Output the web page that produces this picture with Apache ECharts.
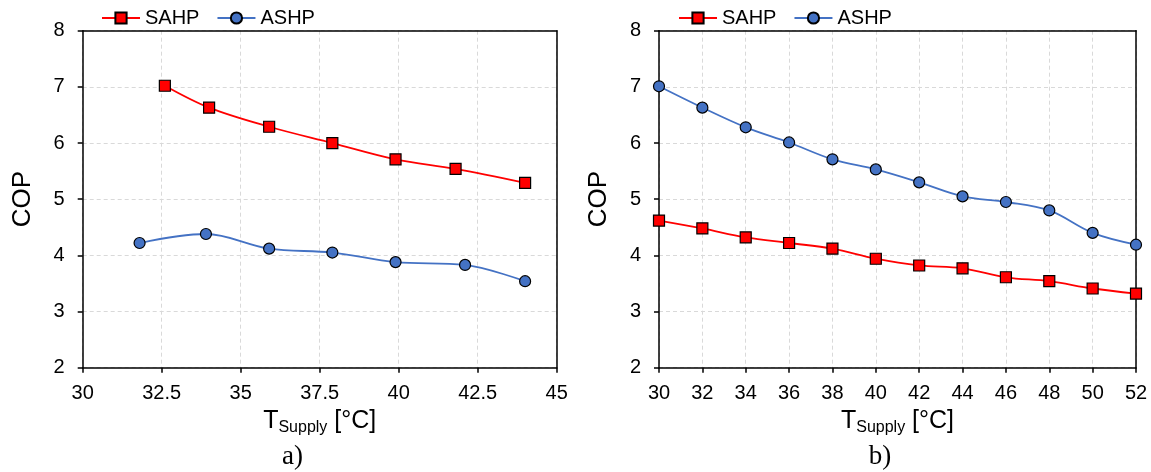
<!DOCTYPE html>
<html>
<head>
<meta charset="utf-8">
<script src="https://cdn.jsdelivr.net/npm/echarts@6/dist/echarts.min.js"></script>
<style>
  html, body { margin: 0; padding: 0; background: #fff; }
  #chart { width: 1151px; height: 472px; }
</style>
</head>
<body>
<div id="chart"></div>
<script>
// Panel a): supply temperature (°C) vs COP
const aSahpTemp = [32.6, 34.0, 35.9, 37.9, 39.9, 41.8, 44.0];
const aSahpCop  = [7.02, 6.63, 6.29, 6.00, 5.71, 5.54, 5.29];
const aAshpTemp = [31.8, 33.9, 35.9, 37.9, 39.9, 42.1, 44.0];
const aAshpCop  = [4.22, 4.38, 4.12, 4.05, 3.88, 3.83, 3.54];

// Panel b): supply temperature (°C) vs COP
const bTemp     = [30, 32, 34, 36, 38, 40, 42, 44, 46, 48, 50, 52];
const bSahpCop  = [4.62, 4.48, 4.32, 4.22, 4.12, 3.94, 3.82, 3.77, 3.61, 3.54, 3.41, 3.32];
const bAshpCop  = [7.01, 6.63, 6.28, 6.01, 5.71, 5.53, 5.30, 5.05, 4.95, 4.80, 4.40, 4.19];

const seriesNames = ['SAHP', 'ASHP'];
const panelCaptions = ['a)', 'b)'];

const FONT = '"Liberation Sans", Arial, sans-serif';
const RED = '#ff0000';
const BLUE = '#4472c4';
const FRAME = { color: '#000', width: 1.5 };

const pairs = (xs, ys) => xs.map((x, i) => [x, ys[i]]);

function xAxisFor(gridIndex, min, max, interval) {
  return {
    type: 'value', gridIndex, min, max, interval,
    name: '{t|T}{s|Supply}{u| [°C]}',
    nameLocation: 'middle',
    nameGap: 37,
    nameTextStyle: {
      rich: {
        t: { fontFamily: FONT, fontSize: 25, color: '#000', verticalAlign: 'bottom', lineHeight: 26 },
        s: { fontFamily: FONT, fontSize: 16, color: '#000', verticalAlign: 'bottom', lineHeight: 26, padding: [0, 0, -2, 0] },
        u: { fontFamily: FONT, fontSize: 25, color: '#000', verticalAlign: 'bottom', lineHeight: 26 }
      }
    },
    axisLine: { show: true, onZero: false, lineStyle: FRAME },
    axisTick: { show: true, inside: false, length: 5, lineStyle: FRAME },
    axisLabel: { color: '#000', fontFamily: FONT, fontSize: 20, margin: 16, showMinLabel: true, showMaxLabel: true },
    splitLine: { show: true, lineStyle: { color: '#d9d9d9', type: [4, 3], width: 1 } },
    z: 1
  };
}

function yAxisFor(gridIndex) {
  return {
    type: 'value', gridIndex, min: 2, max: 8, interval: 1,
    name: 'COP',
    nameLocation: 'middle',
    nameRotate: 90,
    nameGap: 47,
    nameTextStyle: { fontFamily: FONT, fontSize: 26, color: '#000' },
    axisLine: { show: true, onZero: false, lineStyle: FRAME },
    axisTick: { show: true, inside: false, length: 5, lineStyle: FRAME },
    axisLabel: { color: '#000', fontFamily: FONT, fontSize: 20, margin: 18, showMinLabel: true, showMaxLabel: true },
    splitLine: { show: true, lineStyle: { color: '#d9d9d9', type: [4, 3], width: 1 } },
    z: 1
  };
}

// Plain frame edges on the top and right of each plot
function frameAxis(gridIndex, position) {
  return {
    type: 'value', gridIndex, position, min: 0, max: 1,
    axisLine: { show: true, onZero: false, lineStyle: FRAME },
    axisTick: { show: false },
    axisLabel: { show: false },
    splitLine: { show: false },
    z: 2
  };
}

function lineSeries(name, color, symbol, xAxisIndex, data) {
  return {
    name, type: 'line', xAxisIndex, yAxisIndex: xAxisIndex,
    data, smooth: 0.35,
    symbol, symbolSize: 11,
    showAllSymbol: true,
    lineStyle: { color, width: 1.8 },
    itemStyle: { color, borderColor: '#000', borderWidth: 1.2 },
    emphasis: { disabled: true },
    z: symbol === 'rect' ? 4 : 3
  };
}

function legendFor(left) {
  return {
    left, top: 8, padding: 0,
    orient: 'horizontal',
    data: seriesNames,
    itemWidth: 38, itemHeight: 14, itemGap: 17,
    textStyle: { fontFamily: FONT, fontSize: 20, color: '#000' },
    selectedMode: false
  };
}

function caption(text, cx) {
  return {
    type: 'text', x: cx, y: 457, z: 10,
    style: { text, font: '27px "Liberation Serif", "Times New Roman", serif', fill: '#000', align: 'center', verticalAlign: 'middle' }
  };
}

const chart = echarts.init(document.getElementById('chart'), null, { renderer: 'canvas' });

chart.setOption({
  animation: false,
  backgroundColor: '#fff',
  legend: [legendFor(101), legendFor(678)],
  grid: [
    { left: 82.7, right: 594.3, top: 30.7, bottom: 104.3 },
    { left: 659, right: 15, top: 30.7, bottom: 104.3 }
  ],
  xAxis: [
    xAxisFor(0, 30, 45, 2.5),
    xAxisFor(1, 30, 52, 2),
    frameAxis(0, 'top'),
    frameAxis(1, 'top')
  ],
  yAxis: [
    yAxisFor(0),
    yAxisFor(1),
    frameAxis(0, 'right'),
    frameAxis(1, 'right')
  ],
  series: [
    lineSeries(seriesNames[0], RED, 'rect', 0, pairs(aSahpTemp, aSahpCop)),
    lineSeries(seriesNames[1], BLUE, 'circle', 0, pairs(aAshpTemp, aAshpCop)),
    lineSeries(seriesNames[0], RED, 'rect', 1, pairs(bTemp, bSahpCop)),
    lineSeries(seriesNames[1], BLUE, 'circle', 1, pairs(bTemp, bAshpCop))
  ],
  graphic: [caption(panelCaptions[0], 292.5), caption(panelCaptions[1], 880)]
});
</script>
</body>
</html>
